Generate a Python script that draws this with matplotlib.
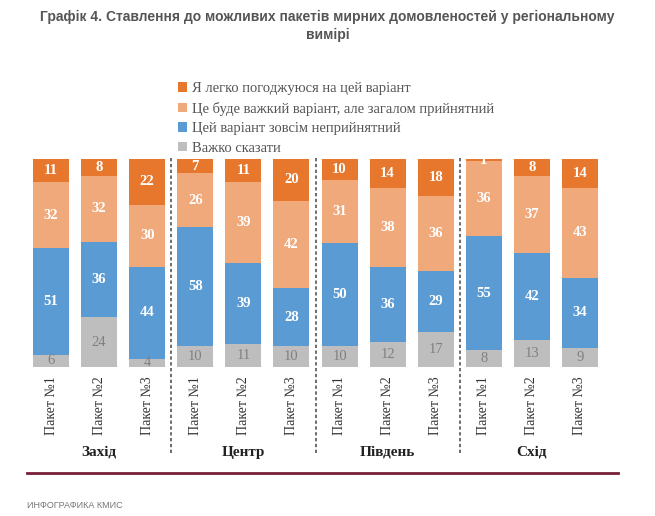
import numpy as np
import matplotlib.pyplot as plt
from matplotlib.patches import Patch
from matplotlib.lines import Line2D

regions = ['Захід', 'Центр', 'Південь', 'Схід']
packets = ['Пакет №1', 'Пакет №2', 'Пакет №3']

# values per bar, order: Захід 1-3, Центр 1-3, Південь 1-3, Схід 1-3
hard_to_say = [6, 24, 4, 10, 11, 10, 10, 12, 17, 8, 13, 9]
unacceptable = [51, 36, 44, 58, 39, 28, 50, 36, 29, 55, 42, 34]
hard_but_ok = [32, 32, 30, 26, 39, 42, 31, 38, 36, 36, 37, 43]
easy_agree = [11, 8, 22, 7, 11, 20, 10, 14, 18, 1, 8, 14]

series_names = ['Я легко погоджуюся на цей варіант',
                'Це буде важкий варіант, але загалом прийнятний',
                'Цей варіант зовсім неприйнятний',
                'Важко сказати']
colors = ['#E8772E', '#F0A97A', '#5A9BD4', '#BEBEBE']

W, H = 655, 516
fig = plt.figure(figsize=(W / 100, H / 100), dpi=100)
fig.patch.set_facecolor('white')

ax = fig.add_axes([27 / W, 1 - 367 / H, 577 / W, 208 / H])
x = np.arange(12)

stack = np.array([hard_to_say, unacceptable, hard_but_ok, easy_agree], dtype=float)
totals = stack.sum(axis=0)
pct = stack / totals * 100

serif = ['Liberation Serif', 'DejaVu Serif']
bottom = np.zeros(12)
# draw from bottom: gray, blue, light orange, dark orange
draw_order = [(0, colors[3]), (1, colors[2]), (2, colors[1]), (3, colors[0])]
for i, c in draw_order:
    ax.bar(x, pct[i], bottom=bottom, width=0.75, color=c, edgecolor='none')
    for j in range(12):
        yc = bottom[j] + pct[i][j] / 2
        if i == 0:
            ax.text(x[j], yc, str(int(stack[i][j])), ha='center', va='center',
                    color='#808080', fontsize=10.5, family=serif)
        else:
            ax.text(x[j], yc, str(int(stack[i][j])), ha='center', va='center',
                    color='white', fontsize=10.5, fontweight='bold', family=serif)
    bottom += pct[i]

ax.set_xlim(-0.5, 11.5)
ax.set_ylim(0, 100)
ax.axis('off')

# packet tick labels
for j in range(12):
    ax.text(x[j], -4.5, packets[j % 3], rotation=90, ha='center', va='top',
            fontsize=10, family=serif, color='#333333')

# region labels
for k, r in enumerate(regions):
    ax.text(3 * k + 1, -41, r, ha='center', va='center', fontsize=11,
            fontweight='bold', family=serif, color='#222222')

# dividers
for k in range(1, 4):
    ax.plot([3 * k - 0.5, 3 * k - 0.5], [100.5, -42.5], ls=(0, (2, 1.5)),
            color='#555555', lw=1.2, clip_on=False)

# legend
handles = [Patch(facecolor=c, edgecolor='none') for c in colors]
fig.legend(handles, series_names, loc='upper left',
           bbox_to_anchor=(165 / W, 1 - 69 / H), frameon=False,
           handlelength=0.6, handleheight=0.6, handletextpad=0.35,
           labelspacing=0.45, prop={'family': serif, 'size': 10.5},
           labelcolor='#555555')

# title
fig.text(0.5, 1 - 17 / H, 'Графік 4. Ставлення до можливих пакетів мирних домовленостей у регіональному',
         ha='center', va='center', fontsize=10, fontweight='bold',
         family=['Liberation Sans', 'DejaVu Sans'], color='#555555')
fig.text(0.5, 1 - 35 / H, 'вимірі', ha='center', va='center', fontsize=10,
         fontweight='bold', family=['Liberation Sans', 'DejaVu Sans'], color='#555555')

# bottom rule and footer
fig.add_artist(Line2D([27 / W, 618 / W], [1 - 473 / H, 1 - 473 / H],
                      color='#7A1E35', lw=2, transform=fig.transFigure))
fig.text(27 / W, 1 - 505 / H, 'ИНФОГРАФИКА КМИС', ha='left', va='center',
         fontsize=6.5, family=['Liberation Sans', 'DejaVu Sans'], color='#777777')

fig.savefig('out.png', dpi=100)
